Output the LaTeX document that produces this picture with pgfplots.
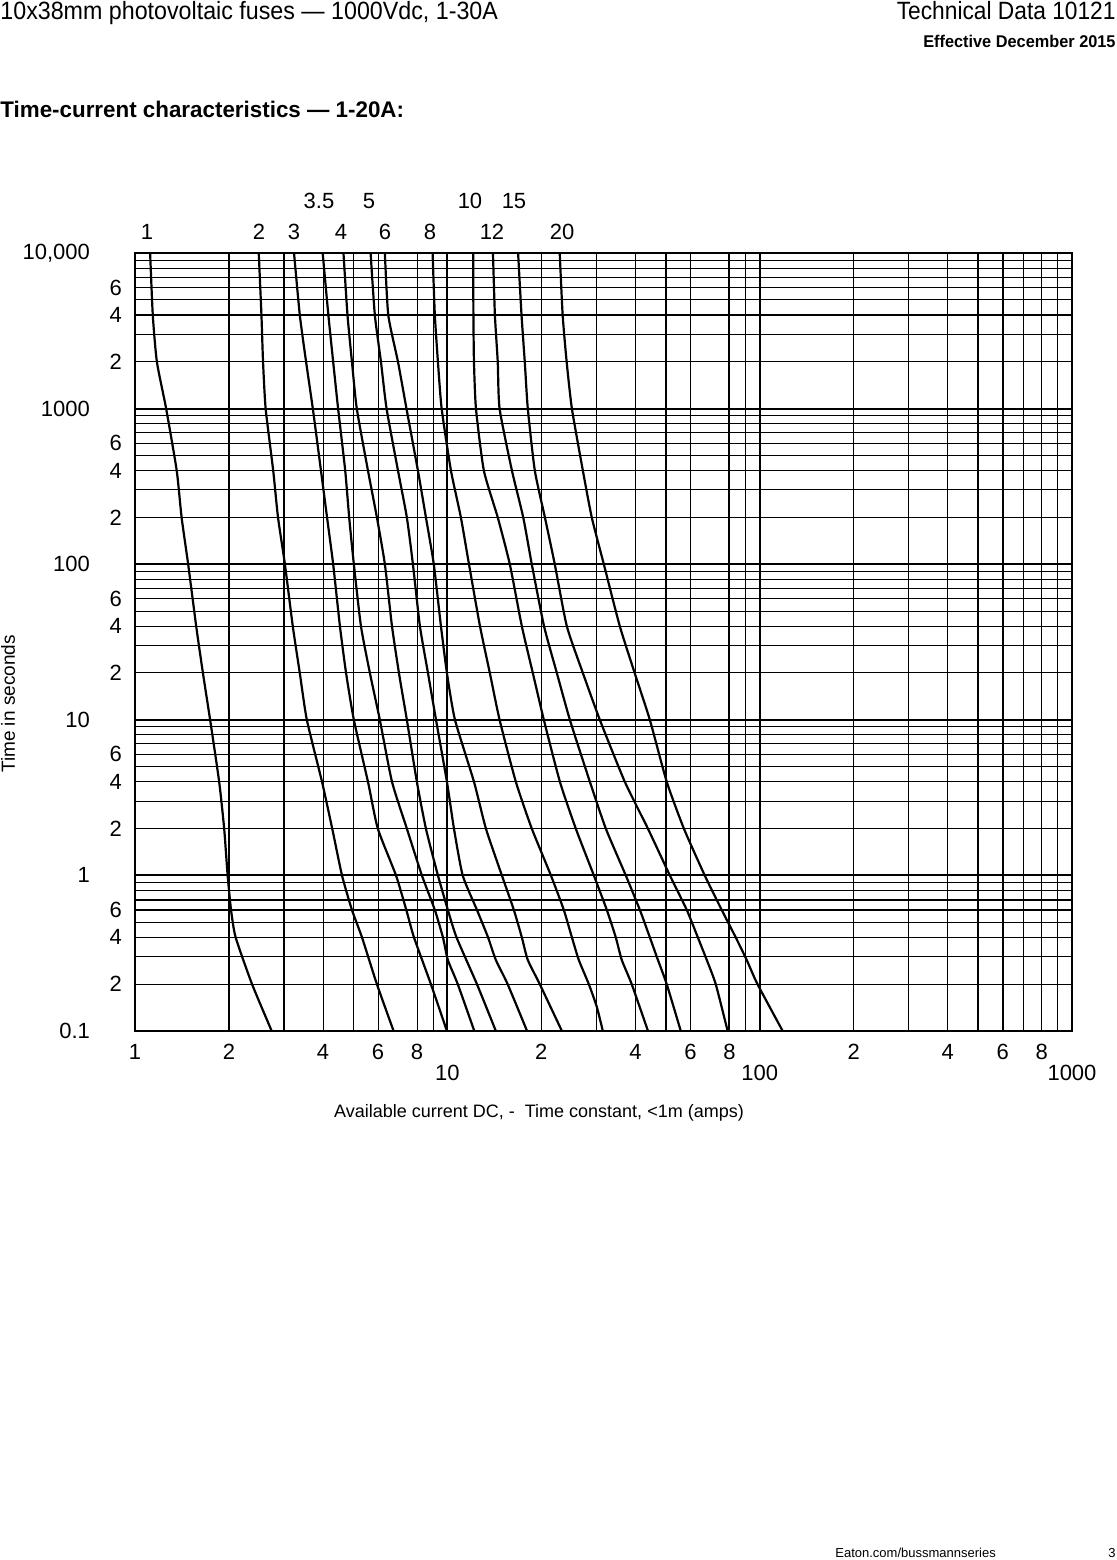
\documentclass[border=0pt]{standalone}
\usepackage{fontspec}
\setmainfont{Liberation Sans}
\usepackage{graphicx}
\usepackage{pgfplots}
\pgfplotsset{compat=1.18}
\begin{document}
\begin{tikzpicture}[x=1pt,y=1pt]
\useasboundingbox (0,0) rectangle (558,780);
\begin{axis}[
  at={(67.5pt,264.5pt)}, anchor=south west,
  width=468.5pt, height=389pt, scale only axis,
  xmode=log, ymode=log, xmin=1, xmax=1000, ymin=0.1, ymax=10000,
  axis line style={line width=1.3pt},
  xtick={1,2,4,6,8,20,40,60,80,200,400,600,800},
  xticklabels={1,2,4,6,8,2,4,6,8,2,4,6,8},
  extra x ticks={10,100,1000},
  extra x tick labels={10,100,1000},
  extra x tick style={xticklabel style={yshift=-10.5pt}},
  ytick={0.2,0.4,0.6,2,4,6,20,40,60,200,400,600,2000,4000,6000},
  yticklabels={2,4,6,2,4,6,2,4,6,2,4,6,2,4,6},
  extra y ticks={0.1,1,10,100,1000,10000},
  extra y tick labels={0.1,1,10,100,1000,{10,000}},
  extra y tick style={yticklabel style={xshift=-16pt}},
  major tick length=0pt, minor tick length=0pt,
  tick label style={font=\fontsize{11}{11}\selectfont},
  xticklabel style={yshift=-3pt},
  yticklabel style={xshift=-3pt},
  every axis plot post/.append style={black, solid, line width=1.1pt, mark=none, smooth, tension=0.35},
]
% grid
\pgfplotsinvokeforeach{4,5,6,8,9,20,30,40,60,90,200,300,400,700,800,900}{
  \draw[line width=0.5pt] (axis cs:#1,0.1) -- (axis cs:#1,10000);}
\draw[line width=0.75pt] (axis cs:3,0.1) -- (axis cs:3,10000);
\pgfplotsinvokeforeach{2,10,50,80,100,500,600}{
  \draw[line width=1pt] (axis cs:#1,0.1) -- (axis cs:#1,10000);}
\pgfplotsinvokeforeach{0.2,0.3,0.4,0.5,0.8,0.9,2,3,4,5,6,7,8,9,20,30,40,50,60,70,80,90,200,300,400,500,600,700,800,900,2000,3000,5000,6000,7000,8000,9000}{
  \draw[line width=0.5pt] (axis cs:1,#1) -- (axis cs:1000,#1);}
\pgfplotsinvokeforeach{0.6,0.7,1,10,100,1000,4000}{
  \draw[line width=1pt] (axis cs:1,#1) -- (axis cs:1000,#1);}
% 1 A
\addplot coordinates {(1.118,10000) (1.14,4000) (1.175,2000) (1.258,1000) (1.36,400) (1.41,200) (1.48,100) (1.57,40) (1.65,20) (1.74,10) (1.86,4) (1.93,2) (1.98,1) (2.03,0.6) (2.10,0.4) (2.37,0.2) (2.74,0.1)};
% 2 A
\addplot coordinates {(2.49,10000) (2.54,4000) (2.57,2000) (2.62,1000) (2.77,400) (2.87,200) (3.02,100) (3.20,40) (3.37,20) (3.55,10) (3.97,4) (4.28,2) (4.60,1) (4.95,0.6) (5.33,0.4) (5.95,0.2) (6.73,0.1)};
% 3 A
\addplot coordinates {(3.23,10000) (3.37,4000) (3.53,2000) (3.71,1000) (3.94,400) (4.12,200) (4.31,100) (4.53,40) (4.74,20) (5.02,10) (5.57,4) (5.99,2) (6.85,1) (7.39,0.6) (7.82,0.4) (8.86,0.2) (9.97,0.1)};
% 3.5 A
\addplot coordinates {(3.99,10000) (4.16,4000) (4.31,2000) (4.47,1000) (4.71,400) (4.85,200) (5.02,100) (5.29,40) (5.65,20) (6.08,10) (6.65,4) (7.42,2) (8.29,1) (9.12,0.6) (9.68,0.4) (10.04,0.286) (10.8,0.2) (12.2,0.1)};
% 4 A
\addplot coordinates {(4.65,10000) (4.79,4000) (4.95,2000) (5.13,1000) (5.57,400) (5.95,200) (6.31,100) (6.65,40) (7.0,20) (7.42,10) (7.99,4) (8.54,2) (9.33,1) (10.04,0.6) (10.7,0.4) (12.44,0.2) (14.3,0.1)};
% 5 A
\addplot coordinates {(5.68,10000) (5.86,4000) (6.13,2000) (6.39,1000) (6.95,400) (7.42,200) (7.76,100) (8.17,40) (8.67,20) (9.2,10) (9.97,4) (10.5,2) (11.2,1) (12.44,0.6) (13.5,0.4) (14.3,0.286) (15.6,0.2) (18.0,0.1)};
% 6 A
\addplot coordinates {(6.31,10000) (6.47,4000) (6.95,2000) (7.40,1000) (8.05,400) (8.54,200) (9.05,100) (9.54,40) (9.97,20) (10.58,10) (12.17,4) (13.29,2) (14.95,1) (16.33,0.6) (17.32,0.4) (18.1,0.286) (19.77,0.2) (23.27,0.1)};
% 8 A
\addplot coordinates {(8.97,10000) (9.12,4000) (9.33,2000) (9.59,1000) (10.27,400) (11.05,200) (11.73,100) (12.72,40) (13.68,20) (14.7,10) (16.57,4) (18.64,2) (21.46,1) (23.6,0.6) (25.05,0.4) (26.36,0.286) (28.38,0.2) (30.1,0.143) (31.47,0.1)};
% 10 A
\addplot coordinates {(12.1,10000) (12.12,4000) (12.17,2000) (12.35,1000) (13.09,400) (14.5,200) (15.85,100) (17.32,40) (18.78,20) (20.37,10) (22.93,4) (25.78,2) (29.45,1) (32.41,0.6) (34.62,0.4) (36.19,0.286) (38.94,0.2) (43.9,0.1)};
% 12 A
\addplot coordinates {(14.0,10000) (14.2,4000) (14.5,2000) (14.7,1000) (16.1,400) (17.5,200) (18.64,100) (20.4,40) (22.42,20) (24.68,10) (28.6,4) (32.17,2) (37.27,1) (41.35,0.6) (44.5,0.4) (47.24,0.286) (50.4,0.2) (55.9,0.1)};
% 15 A
\addplot coordinates {(16.85,10000) (17.28,4000) (17.7,2000) (18.1,1000) (19.06,400) (20.53,200) (22.08,100) (24.13,40) (27.16,20) (30.78,10) (37.0,4) (43.87,2) (51.58,1) (58.43,0.6) (63.38,0.4) (67.72,0.286) (72.34,0.2) (79.0,0.1)};
% 20 A
\addplot coordinates {(22.9,10000) (23.4,4000) (24.1,2000) (25.05,1000) (27.16,400) (29.0,200) (31.7,100) (35.66,40) (39.8,20) (44.5,10) (50.4,4) (57.2,2) (66.7,1) (75.6,0.6) (83.8,0.4) (90.9,0.286) (98.4,0.2) (118.5,0.1)};
\end{axis}
% curve labels
\begin{scope}[every node/.style={font=\fontsize{11}{11}\selectfont, anchor=base, inner sep=0pt}]
\node at (73.5,660) {1};
\node at (129.5,660) {2};
\node at (147,660) {3};
\node at (170.5,660) {4};
\node at (192.5,660) {6};
\node at (215,660) {8};
\node at (246,660) {12};
\node at (281,660) {20};
\node at (159.5,675.5) {3.5};
\node at (184.5,675.5) {5};
\node at (235,675.5) {10};
\node at (257,675.5) {15};
\end{scope}
% axis titles
\node[font=\fontsize{9}{9}\selectfont, anchor=base] at (269.5,221) {Available current DC, -\ \ Time constant, <1m (amps)};
\node[font=\fontsize{9.5}{9.5}\selectfont, rotate=90, anchor=center] at (4,428) {Time in seconds};
% header
\node[anchor=base west, inner sep=0pt] at (0,770) {\fontsize{12.5}{12.5}\selectfont\scalebox{0.93}[1]{10x38mm photovoltaic fuses — 1000Vdc, 1-30A}};
\node[anchor=base east, inner sep=0pt] at (558,770) {\fontsize{12.5}{12.5}\selectfont\scalebox{0.91}[1]{Technical Data 10121}};
\node[anchor=base east, inner sep=0pt] at (558,756) {\fontsize{8.5}{8.5}\selectfont\scalebox{0.96}[1]{\bfseries Effective December 2015}};
\node[anchor=base west, inner sep=0pt] at (0,721) {\fontsize{11.3}{11.3}\selectfont\scalebox{0.99}[1]{\bfseries Time-current characteristics — 1-20A:}};
% footer
\node[anchor=base west, inner sep=0pt] at (417.5,1.5) {\fontsize{6.5}{6.5}\selectfont Eaton.com/bussmannseries};
\node[anchor=base east, inner sep=0pt] at (558,1.5) {\fontsize{6.5}{6.5}\selectfont 3};
\end{tikzpicture}
\end{document}
